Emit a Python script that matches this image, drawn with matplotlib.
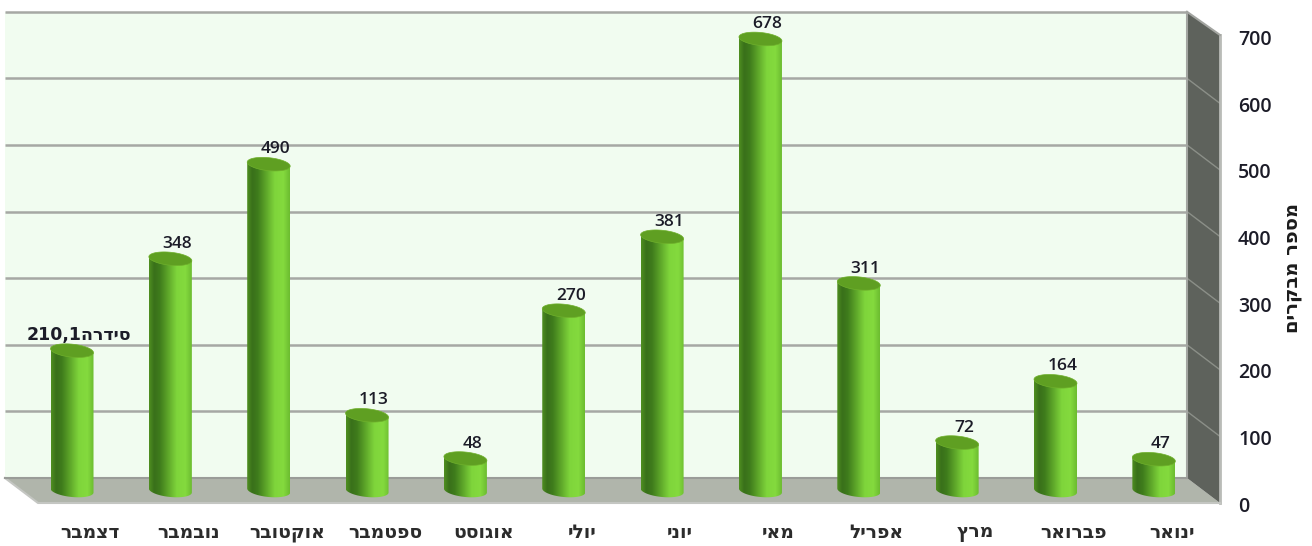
import numpy as np
import matplotlib
matplotlib.use("Agg")
import matplotlib.pyplot as plt
from matplotlib.colors import LinearSegmentedColormap
from matplotlib.patches import Polygon

# months, right to left in the original chart (shown left to right here)
months = ["דצמבר", "נובמבר", "אוקטובר", "ספטמבר", "אוגוסט", "יולי", "יוני", "מאי", "אפריל", "מרץ", "פברואר", "ינואר"]
visitors = [210, 348, 490, 113, 48, 270, 381, 678, 311, 72, 164, 47]
value_ticks = [0, 100, 200, 300, 400, 500, 600, 700]
axis_title = "מספר מבקרים"
first_label = "210,1" + "סידרה"[::-1]


def vis(s):
    # matplotlib has no bidi, so hebrew has to go in visual order
    return s[::-1]


W, H = 1312, 546
x0, dx = 72, 98.35     # pixel of first bar, pixel step
y0, dy = 490.5, 0.666  # pixel of value 0 at the bars, pixel per unit


def px(p):
    return (p - x0) / dx


def py(p):
    return (y0 - p) / dy


fig = plt.figure(figsize=(W / 100, H / 100), dpi=100)
ax = fig.add_axes([0, 0, 1, 1])
ax.axis("off")

back = py(478)  # value position of the back floor edge
front = py(503)
left_b, right_b = px(5), px(1187)
left_f, right_f = px(38), px(1220)
top_b = back + 700
top_f = py(35)

ax.add_patch(Polygon([(left_b, back), (right_b, back), (right_b, top_b), (left_b, top_b)],
                     fc="#f1fcf0", ec="none", zorder=1))
ax.add_patch(Polygon([(left_b, back), (right_b, back), (right_f, front), (left_f, front)],
                     fc="#b0b5ab", ec="none", zorder=1))
ax.add_patch(Polygon([(right_b, back), (right_f, front), (right_f, top_f), (right_b, top_b)],
                     fc="#5e625c", ec="none", zorder=1))

for v in value_ticks[1:]:
    ax.plot([left_b, right_b], [back + v, back + v], color="#a6a8a4", lw=1.8, zorder=2, solid_capstyle="butt")
    if v < 700:
        ax.plot([right_b, right_f], [back + v, front + v], color="#8b8f88", lw=1, zorder=2)
ax.plot([right_b, right_b], [back, top_b], color="#a3a5a1", lw=1.5, zorder=2)
ax.plot([right_f, right_f], [front, top_f], color="#b9bbb7", lw=2, zorder=2)
ax.plot([right_b, right_f], [top_b, top_f], color="#a3a5a1", lw=1.5, zorder=2)
ax.plot([left_b, left_f, right_f], [back, front, front], color="#c4c6c2", lw=1.5, zorder=2)
ax.plot([left_b, right_b], [back, back], color="#9a9c98", lw=1.5, zorder=2)

side = LinearSegmentedColormap.from_list(
    "side", [(0, "#4f8f20"), (0.12, "#39701a"), (0.25, "#3f7c1c"), (0.45, "#5fa82a"),
             (0.65, "#7fd53b"), (0.85, "#84da3e"), (1, "#6cbc30")])
grad = np.linspace(0, 1, 128).reshape(1, -1)
half_w = 21.5 / dx
ry = 6.5 / dy
tilt = 2 / dy  # the cylinders lean a little, left edge higher than right
t = np.linspace(0, np.pi, 40)
a = np.linspace(0, 2 * np.pi, 60)

for i, v in enumerate(visitors):
    # body outline: top edge straight, bottom a half ellipse
    bottom_x = np.cos(t)
    outline = np.vstack([[[i - half_w, v + tilt], [i + half_w, v - tilt]],
                         np.column_stack([i + half_w * bottom_x, -ry * np.sin(t) - tilt * bottom_x])])
    body = Polygon(outline, closed=True, fc="none", ec="none")
    ax.add_patch(body)
    im = ax.imshow(grad, cmap=side, extent=[i - half_w, i + half_w, -2 * ry, v + 2 * tilt],
                   aspect="auto", zorder=3)
    im.set_clip_path(body)
    ax.add_patch(Polygon(np.column_stack([i + half_w * np.cos(a), v + ry * np.sin(a) - tilt * np.cos(a)]),
                         fc="#5f9f22", ec="#6fb02c", lw=0.5, zorder=4))
    label = first_label if i == 0 else str(v)
    ax.text(i + 0.07, v + ry + 0.5, label, ha="center", va="bottom", fontsize=12.5,
            family="DejaVu Sans" if i == 0 else "Open Sans",
            fontweight="bold" if i == 0 else "semibold", color="#1c1c28", zorder=5)
    ax.text(i + 18 / dx, py(532), vis(months[i]), ha="center", va="center", fontsize=13.5,
            family="DejaVu Sans", fontweight="bold", color="#2b2b2b")

for v in value_ticks:
    ax.text(px(1238), py(506.5) + v, str(v), ha="left", va="center", fontsize=14,
            family="Open Sans", fontweight="semibold", color="#1c1c28")

ax.text(px(1292), py(268), vis(axis_title), rotation=90, ha="center", va="center",
        fontsize=14, family="DejaVu Sans", fontweight="bold", color="#1c1c1c")

ax.set_xlim(px(0), px(W))
ax.set_ylim(py(H), py(0))
fig.savefig("out.png", dpi=100)
